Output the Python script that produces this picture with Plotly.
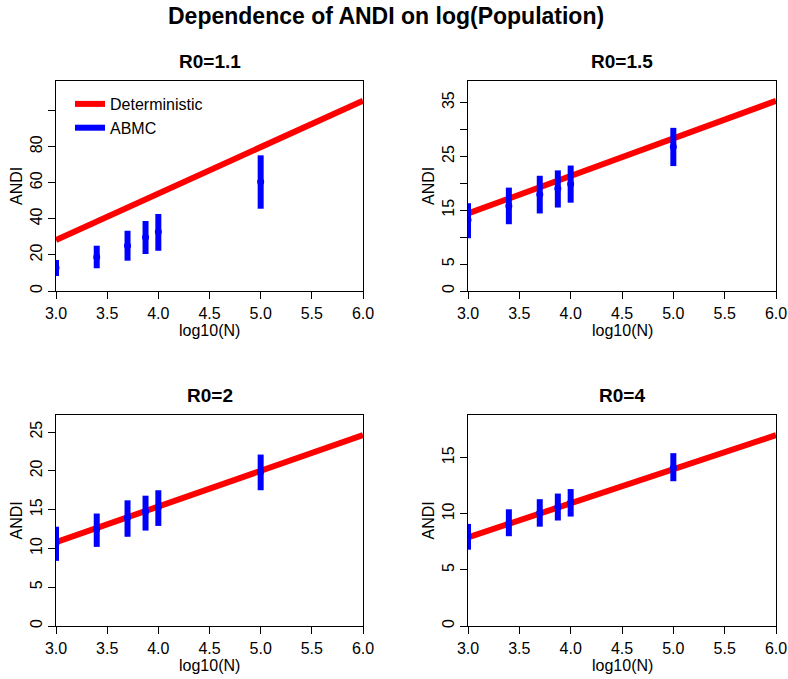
import plotly.graph_objects as go

# ------------------------------------------------------------
# DATA
# ------------------------------------------------------------
log_n = [3.0, 3.398, 3.699, 3.875, 4.0, 5.0]
det_x = [3.0, 6.0]

panel_titles = ["R0=1.1", "R0=1.5", "R0=2", "R0=4"]

det_r11 = [28.3, 105.5]
det_r15 = [14.4, 35.3]
det_r2 = [10.8, 24.6]
det_r4 = [7.9, 17.0]

mean_r11 = [12.9, 18.8, 25.1, 29.8, 32.9, 60.6]
low_r11 = [8.3, 12.6, 16.8, 20.5, 22.3, 45.6]
high_r11 = [17.2, 25.1, 33.4, 38.8, 42.7, 75.2]

mean_r15 = [13.2, 15.8, 17.9, 19.05, 19.85, 26.8]
low_r15 = [9.8, 12.4, 14.4, 15.5, 16.4, 23.2]
high_r15 = [16.3, 19.2, 21.4, 22.4, 23.3, 30.3]

mean_r2 = [10.7, 12.5, 14.0, 14.75, 15.3, 19.9]
low_r2 = [8.4, 10.2, 11.5, 12.3, 12.9, 17.5]
high_r2 = [12.8, 14.5, 16.2, 16.8, 17.5, 22.1]

mean_r4 = [8.0, 9.15, 10.1, 10.6, 11.0, 14.1]
low_r4 = [6.8, 8.0, 8.85, 9.4, 9.75, 12.9]
high_r4 = [9.1, 10.4, 11.3, 11.8, 12.2, 15.4]

x_ticks = [3.0, 3.5, 4.0, 4.5, 5.0, 5.5, 6.0]
y_ticks_r11 = [0, 20, 40, 60, 80, 100]
y_text_r11 = ["0", "20", "40", "60", "80", ""]
y_ticks_r15 = [0, 5, 10, 15, 20, 25, 30, 35]
y_text_r15 = ["0", "5", "", "15", "", "25", "", "35"]
y_ticks_r2 = [0, 5, 10, 15, 20, 25]
y_text_r2 = ["0", "5", "10", "15", "20", "25"]
y_ticks_r4 = [0, 5, 10, 15]
y_text_r4 = ["0", "5", "10", "15"]

y_max = [116.4, 39.0, 27.2, 18.8]

# ------------------------------------------------------------
# LAYOUT HELPERS (screen pixel -> paper)
# ------------------------------------------------------------
W, H = 788, 679
FONT = "Liberation Sans, Arial, Helvetica, sans-serif"
RED = "#FF0000"
BLUE = "#0000FF"


def px(x):
    return x / W


def py(y):
    return 1 - y / H


# pixel boxes of the four plot regions: left, right, top, bottom
boxes = [
    (56, 363, 81, 291),
    (468, 776, 81, 291),
    (56, 363, 415, 626),
    (468, 776, 415, 626),
]

panels = [
    (det_r11, mean_r11, low_r11, high_r11, y_ticks_r11, y_text_r11),
    (det_r15, mean_r15, low_r15, high_r15, y_ticks_r15, y_text_r15),
    (det_r2, mean_r2, low_r2, high_r2, y_ticks_r2, y_text_r2),
    (det_r4, mean_r4, low_r4, high_r4, y_ticks_r4, y_text_r4),
]

fig = go.Figure()
annotations = []
layout_axes = {}

for i, (det, mean, low, high, yt, ytxt) in enumerate(panels):
    n = i + 1
    xa = "x" if n == 1 else "x%d" % n
    ya = "y" if n == 1 else "y%d" % n

    # deterministic line
    fig.add_trace(go.Scatter(
        x=det_x, y=det, mode="lines",
        line=dict(color=RED, width=6),
        name="Deterministic", showlegend=(n == 1),
        xaxis=xa, yaxis=ya
    ))

    # ABMC ranges as vertical segments
    seg_x, seg_y = [], []
    for xv, lo, hi in zip(log_n, low, high):
        seg_x += [xv, xv, None]
        seg_y += [lo, hi, None]
    fig.add_trace(go.Scatter(
        x=seg_x, y=seg_y, mode="lines",
        line=dict(color=BLUE, width=6),
        name="ABMC", showlegend=(n == 1),
        xaxis=xa, yaxis=ya
    ))

    # ABMC means
    fig.add_trace(go.Scatter(
        x=log_n, y=mean, mode="markers",
        marker=dict(color=BLUE, size=7),
        showlegend=False, cliponaxis=True,
        xaxis=xa, yaxis=ya
    ))

    l, r, t, b = boxes[i]
    axis_common = dict(
        showline=True, linecolor="black", linewidth=1, mirror=True,
        ticks="outside", ticklen=7, tickcolor="black", tickwidth=1,
        showgrid=False, zeroline=False, automargin=False,
        tickfont=dict(family=FONT, size=16, color="black"),
    )
    layout_axes["xaxis" if n == 1 else "xaxis%d" % n] = dict(
        axis_common,
        domain=[px(l), px(r)], anchor=ya, range=[3, 6],
        tickvals=x_ticks, ticktext=["%.1f" % v for v in x_ticks],
        ticklabelstandoff=1,
    )
    layout_axes["yaxis" if n == 1 else "yaxis%d" % n] = dict(
        axis_common,
        domain=[py(b), py(t)], anchor=xa, range=[0, y_max[i]],
        tickvals=yt, ticktext=ytxt, tickangle=-90,
        ticklabelstandoff=0,
    )

    # panel title
    annotations.append(dict(
        text="<b>%s</b>" % panel_titles[i], x=px((l + r) / 2), y=py(t - 20),
        xref="paper", yref="paper", showarrow=False,
        xanchor="center", yanchor="middle",
        font=dict(family=FONT, size=19, color="black")
    ))
    # x axis title
    annotations.append(dict(
        text="log10(N)", x=px((l + r) / 2), y=py(b + 39),
        xref="paper", yref="paper", showarrow=False,
        xanchor="center", yanchor="middle",
        font=dict(family=FONT, size=16, color="black")
    ))
    # y axis title
    annotations.append(dict(
        text="ANDI", x=px(l - 40), y=py((t + b) / 2), textangle=-90,
        xref="paper", yref="paper", showarrow=False,
        xanchor="center", yanchor="middle",
        font=dict(family=FONT, size=16, color="black")
    ))

annotations.append(dict(
    text="<b>Dependence of ANDI on log(Population)</b>", x=px(386), y=py(16),
    xref="paper", yref="paper", showarrow=False,
    xanchor="center", yanchor="middle",
    font=dict(family=FONT, size=23, color="black")
))

fig.update_layout(
    width=W, height=H,
    margin=dict(l=0, r=0, t=0, b=0),
    paper_bgcolor="white", plot_bgcolor="white",
    font=dict(family=FONT, size=16, color="black"),
    annotations=annotations,
    hovermode=False,
    legend=dict(
        x=px(70), y=py(87), xanchor="left", yanchor="top",
        bgcolor="rgba(0,0,0,0)", borderwidth=0,
        font=dict(family=FONT, size=16, color="black"),
        tracegroupgap=0,
    ),
    **layout_axes
)

# the page body has a default 8px margin; drop it so the figure fills the window
fig.write_html(
    "out.html",
    config={"displayModeBar": False},
    post_script="document.body.style.margin='0px';"
)
